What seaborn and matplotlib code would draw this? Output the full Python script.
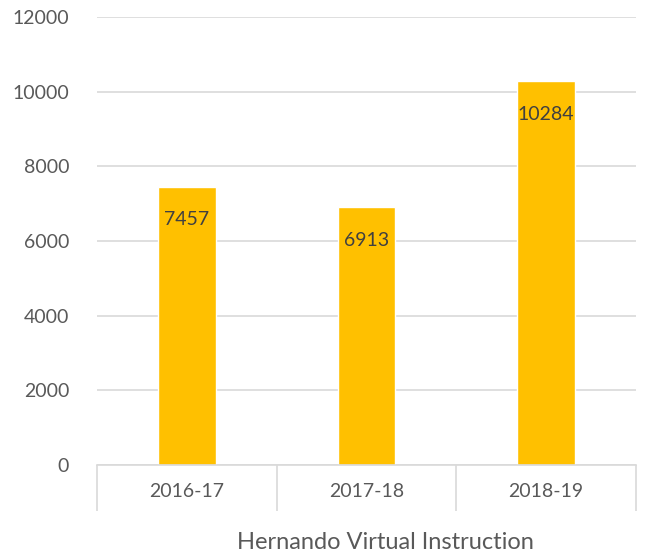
import numpy as np
import pandas as pd
import seaborn as sns
import matplotlib.pyplot as plt

years = ["2016-17", "2017-18", "2018-19"]
counts = [7457, 6913, 10284]

sns.set_theme(style="white")
plt.rcParams['font.family'] = ['Lato', 'DejaVu Sans']

df = pd.DataFrame({"year": years, "count": counts})

fig = plt.figure(figsize=(6.52, 5.6), dpi=100)
ax = fig.add_axes([0.1488, 0.1696, 0.8267, 0.8])

sns.barplot(data=df, x="year", y="count", color="#FFC000", width=0.32,
            saturation=1, ax=ax)

ax.set_ylim(0, 12000)
ax.set_xlim(-0.5, 2.5)
ax.set_yticks(range(0, 12001, 2000))
ax.yaxis.grid(True, color="#D9D9D9", linewidth=1.2)
ax.set_axisbelow(True)

for s in ["top", "right", "left"]:
    ax.spines[s].set_visible(False)
ax.spines["bottom"].set_color("#D9D9D9")
ax.spines["bottom"].set_linewidth(1.2)

# category separators hanging below the axis
ax.set_xticks(np.arange(-0.5, 3, 1), minor=True)
ax.tick_params(axis="x", which="minor", bottom=True, length=33, width=1.2,
               color="#D9D9D9", direction="out")
ax.tick_params(axis="x", which="major", bottom=False, length=0, pad=13,
               labelsize=14, labelcolor="#595959")
ax.tick_params(axis="y", length=0, pad=20, labelsize=14, labelcolor="#595959")

for c in ax.containers:
    ax.bar_label(c, labels=[str(v) for v in counts], padding=-30,
                 fontsize=14, color="#404040")

ax.set_ylabel("")
ax.set_xlabel("Hernando Virtual Instruction", fontsize=17, color="#595959",
              va="center")
ax.xaxis.set_label_coords(0.536, -0.174)

fig.savefig("out.png", dpi=100)
